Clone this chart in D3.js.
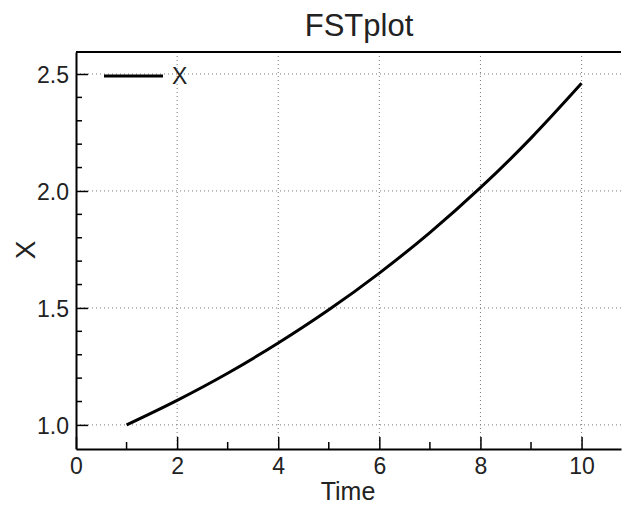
<!DOCTYPE html>
<meta charset="utf-8">
<script src="https://d3js.org/d3.v7.min.js"></script>
<body style="margin:0;background:#fff">
<div id="chart"></div>
</body>
<script>
  // values
  const time = [1, 2, 3, 4, 5, 6, 7, 8, 9, 10];
  const xVals = [1.00, 1.105, 1.221, 1.350, 1.492, 1.649, 1.822, 2.014, 2.226, 2.460];
  const xTicks = [0, 2, 4, 6, 8, 10];
  const yTicks = [1.0, 1.5, 2.0, 2.5];
  const seriesName = "X";

  const W = 622, H = 505;
  const margin = {top: 52, right: 1, bottom: 56, left: 76};
  const width = W - margin.left - margin.right,
        height = H - margin.top - margin.bottom;
  const font = "'Liberation Sans', Arial, Helvetica, sans-serif";

  const svg = d3.select("#chart").append("svg")
      .attr("width", W).attr("height", H)
      .style("font-family", font);
  const g = svg.append("g")
      .attr("transform", `translate(${margin.left},${margin.top})`);

  const x = d3.scaleLinear().domain([0, 10.78]).range([0, width]);
  const y = d3.scaleLinear().domain([0.897, 2.594]).range([height, 0]);

  // grid
  g.selectAll(".vgrid").data(xTicks.filter(d => d > 0)).join("line")
      .attr("x1", d => x(d)).attr("x2", d => x(d))
      .attr("y1", 0).attr("y2", height)
      .attr("stroke", "#777").attr("stroke-width", 1)
      .attr("stroke-dasharray", "1,3");
  g.selectAll(".hgrid").data(yTicks).join("line")
      .attr("x1", 0).attr("x2", width)
      .attr("y1", d => y(d)).attr("y2", d => y(d))
      .attr("stroke", "#777").attr("stroke-width", 1)
      .attr("stroke-dasharray", "1,3");

  // minor ticks
  const xMinor = d3.range(1, 11, 2);
  const yMinor = d3.range(10, 26).map(d => d / 10).filter(d => !yTicks.includes(d));
  g.selectAll(".xminor").data(xMinor).join("line")
      .attr("x1", d => x(d)).attr("x2", d => x(d))
      .attr("y1", height).attr("y2", height - 7)
      .attr("stroke", "#000").attr("stroke-width", 1.5);
  g.selectAll(".yminor").data(yMinor).join("line")
      .attr("y1", d => y(d)).attr("y2", d => y(d))
      .attr("x1", 0).attr("x2", 6)
      .attr("stroke", "#000").attr("stroke-width", 1.5);

  // axes
  const xAxis = g.append("g").attr("transform", `translate(0,${height})`)
      .call(d3.axisBottom(x).tickValues(xTicks).tickSizeInner(-12).tickSizeOuter(0).tickPadding(9));
  const yAxis = g.append("g")
      .call(d3.axisLeft(y).tickValues(yTicks).tickFormat(d3.format(".1f")).tickSizeInner(-12).tickSizeOuter(0).tickPadding(7));
  [xAxis, yAxis].forEach(a => {
    a.attr("font-size", null).attr("font-family", null);
    a.select(".domain").attr("stroke", "#000").attr("stroke-width", 2);
    a.selectAll(".tick line").attr("stroke", "#000").attr("stroke-width", 1.5);
    a.selectAll(".tick text").attr("fill", "#222").style("font-size", "23px").style("font-family", font);
  });
  yAxis.selectAll(".tick text").attr("dy", "0.36em");

  // top frame
  g.append("line").attr("x1", 0).attr("x2", width).attr("y1", 0).attr("y2", 0)
      .attr("stroke", "#000").attr("stroke-width", 2);

  // series
  const line = d3.line().x(d => x(d[0])).y(d => y(d[1])).curve(d3.curveMonotoneX);
  g.append("path").datum(time.map((t, i) => [t, xVals[i]]))
      .attr("d", line).attr("fill", "none")
      .attr("stroke", "#000").attr("stroke-width", 3);

  // legend
  g.append("line").attr("x1", 28).attr("x2", 87).attr("y1", 24).attr("y2", 24)
      .attr("stroke", "#000").attr("stroke-width", 3);
  g.append("text").attr("x", 96).attr("y", 24).attr("dy", "0.36em")
      .attr("fill", "#222").style("font-size", "23px").text(seriesName);

  // titles
  svg.append("text").attr("x", 359).attr("y", 36).attr("text-anchor", "middle")
      .attr("fill", "#222").style("font-size", "31px").text("FSTplot");
  svg.append("text").attr("x", 348).attr("y", 500).attr("text-anchor", "middle")
      .attr("fill", "#222").style("font-size", "25px").text("Time");
  svg.append("text").attr("transform", "translate(35,250) rotate(-90)")
      .attr("text-anchor", "middle").attr("fill", "#222").style("font-size", "28px").text("X");
</script>
